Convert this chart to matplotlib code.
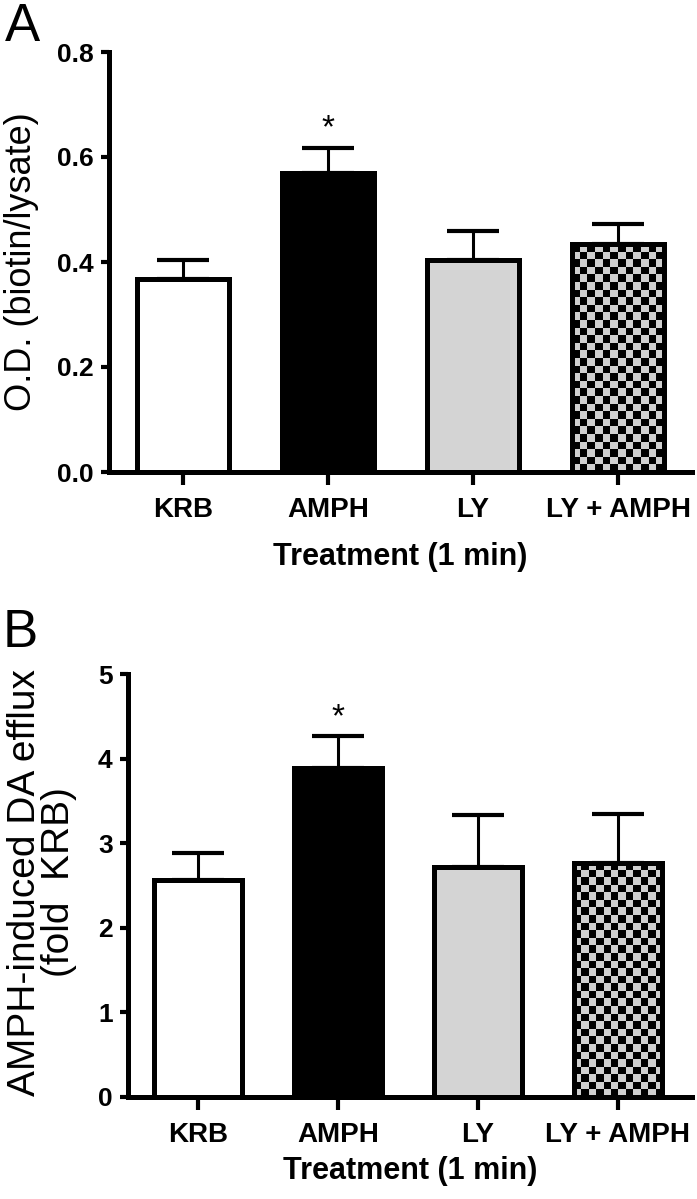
import numpy as np
import matplotlib
matplotlib.use("Agg")
import matplotlib.pyplot as plt
from matplotlib.colors import ListedColormap

plt.rcParams['font.family'] = ['Liberation Sans', 'DejaVu Sans']

categories = ["KRB", "AMPH", "LY", "LY + AMPH"]
od_mean = [0.368, 0.570, 0.404, 0.434]
od_sem = [0.036, 0.047, 0.055, 0.038]
efflux_mean = [2.56, 3.89, 2.72, 2.77]
efflux_sem = [0.32, 0.38, 0.61, 0.58]
od_ticks = [0.0, 0.2, 0.4, 0.6, 0.8]
efflux_ticks = [0, 1, 2, 3, 4, 5]

W, H = 697, 1199
fig = plt.figure(figsize=(W / 100, H / 100), dpi=100)


def px_axes(left, right, top, bottom):
    return fig.add_axes([left / W, 1 - bottom / H, (right - left) / W, (bottom - top) / H])


def checker(ax, bar, cell=7.5):
    # checkerboard fill clipped to the bar outline
    x0, y0 = bar.get_x(), bar.get_y()
    w, h = bar.get_width(), bar.get_height()
    p0 = ax.transData.transform((x0, y0))
    p1 = ax.transData.transform((x0 + w, y0 + h))
    nx = max(1, int(round((p1[0] - p0[0]) / cell)))
    ny = max(1, int(round((p1[1] - p0[1]) / cell)))
    arr = np.indices((ny, nx)).sum(axis=0) % 2
    im = ax.imshow(arr, cmap=ListedColormap(["#cfcfcf", "black"]), extent=(x0, x0 + w, y0, y0 + h),
                   origin="lower", interpolation="nearest", aspect="auto", zorder=0.5)
    im.set_clip_path(bar)


def panel(ax, means, sems, ticks, fmt, xlim, star_off, xpad):
    x = np.arange(len(categories))
    faces = ["white", "black", "#d4d4d4", "none"]
    bars = ax.bar(x, means, width=0.63, color=faces, edgecolor="black", linewidth=3.6, zorder=1)
    ax.errorbar(x, means, yerr=[np.zeros(len(sems)), sems], fmt="none", ecolor="black",
                elinewidth=2.2, capsize=18.5, capthick=3, zorder=0.8)
    ax.set_xlim(*xlim)
    ax.set_ylim(ticks[0], ticks[-1])
    checker(ax, bars[3])
    ax.set_xlim(*xlim)
    ax.set_ylim(ticks[0], ticks[-1])
    ax.annotate("*", (1, means[1] + sems[1]), xytext=(0, star_off), textcoords="offset points",
                ha="center", va="center", fontsize=24)
    for s in ["top", "right"]:
        ax.spines[s].set_visible(False)
    for s in ["left", "bottom"]:
        ax.spines[s].set_linewidth(3.6)
    ax.set_yticks(ticks)
    ax.set_yticklabels([fmt.format(t) for t in ticks], fontsize=19, fontweight="bold")
    ax.set_xticks(x)
    ax.set_xticklabels(categories, fontsize=20, fontweight="bold")
    ax.tick_params(axis="y", length=6, width=3, pad=5)
    ax.tick_params(axis="x", length=9, width=3, pad=9)
    ax.set_xlabel("Treatment (1 min)", fontsize=22, fontweight="bold", labelpad=xpad)


axA = px_axes(109, 692, 52, 472)
panel(axA, od_mean, od_sem, od_ticks, "{:.1f}", (-0.51, 3.51), 14, 14)
fig.text(22 / W, 1 - 262 / H, "O.D. (biotin/lysate)", rotation=90, ha="center", va="center", fontsize=26)
fig.text(5 / W, 1 - 2 / H, "A", ha="left", va="top", fontsize=38)

axB = px_axes(128, 692, 674, 1097)
panel(axB, efflux_mean, efflux_sem, efflux_ticks, "{:d}", (-0.5, 3.53), 13, 6)
fig.text(42 / W, 1 - 882 / H, "AMPH-induced DA efflux\n(fold  KRB)", rotation=90, ha="center", va="center",
         fontsize=28, linespacing=0.95, multialignment="center")
fig.text(3 / W, 1 - 608 / H, "B", ha="left", va="top", fontsize=38)

fig.savefig("out.png", dpi=100)
